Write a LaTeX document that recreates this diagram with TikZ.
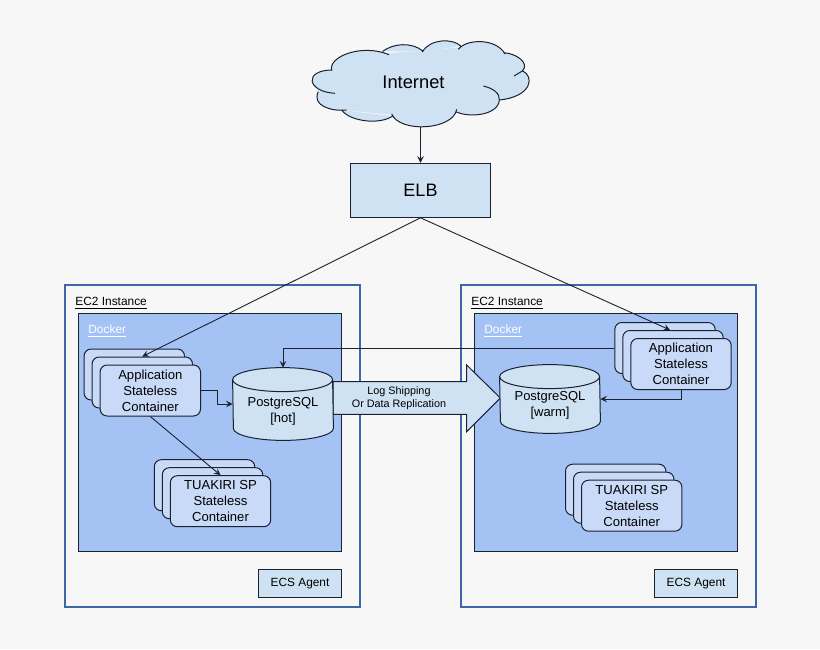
\documentclass[tikz,border=0pt]{standalone}
\usepackage{fontspec}
\setmainfont{Liberation Sans}
\usepackage{tikz}
\usetikzlibrary{positioning}

\definecolor{pagegray}{HTML}{F7F7F7}
\definecolor{paleblue}{HTML}{CFE2F3}
\definecolor{stackblue}{HTML}{C9DAF8}
\definecolor{dockerblue}{HTML}{A4C2F4}
\definecolor{edgeblue}{HTML}{3F66A6}
\definecolor{inkline}{HTML}{1A2230}

\newcommand{\dbdrum}[1]{
	\filldraw[draw=inkline, line width=0.5pt, fill=paleblue]
		([yshift=-6pt]#1.north west) arc[start angle=180, end angle=0, x radius=25pt, y radius=6pt]
		-- ([yshift=6pt]#1.south east) arc[start angle=360, end angle=180, x radius=25pt, y radius=6pt] -- cycle;
	\draw[draw=inkline, line width=0.5pt]
		([yshift=-6pt]#1.north west) arc[start angle=180, end angle=360, x radius=25pt, y radius=6pt];
}

\tikzset{
	plainbox/.style={draw=inkline, line width=0.5pt, fill=paleblue, inner sep=0pt},
	ec2box/.style={draw=edgeblue, line width=1pt, inner sep=0pt, minimum width=147.25pt, minimum height=161pt},
	dockerbox/.style={draw=inkline, line width=0.5pt, fill=dockerblue, inner sep=0pt, minimum width=131.5pt, minimum height=119pt},
	agentbox/.style={plainbox, minimum width=41.75pt, minimum height=14pt, font=\fontsize{5.95}{7}\selectfont},
	stackbox/.style={draw=inkline, line width=0.5pt, fill=stackblue, rounded corners=3.5pt, inner sep=0pt,
		minimum width=50.2pt, minimum height=25.5pt, align=center, font=\fontsize{6.55}{8}\selectfont},
	dbshell/.style={inner sep=0pt, minimum width=50pt},
	dbtext/.style={inner sep=0pt, align=center, font=\fontsize{6.5}{8}\selectfont},
	titletext/.style={inner sep=0pt, anchor=west, font=\fontsize{5.95}{7}\selectfont},
	link/.style={draw=inkline, line width=0.45pt, -stealth},
}

\begin{document}
\begin{tikzpicture}[x=0.5pt, y=-0.5pt]
		
		\fill[pagegray] (0,0) rectangle (820,649);
		\useasboundingbox (0,0) rectangle (820,649);
		
		% Cloud
		\begin{scope}[shift={(290,30)}, x=0.16667pt, y=-0.16667pt]
		\fill[paleblue] (127,120) -- (290,70) -- (400,62) -- (510,52) -- (642,70) -- (697,122)
			-- (628,210) -- (497,245) -- (305,254) -- (160,240) -- (82,195) -- cycle;
		\filldraw[draw=inkline, fill=paleblue, line width=0.5pt]
			(125,120) .. controls (115,80) and (215,40) .. (297,74)
			(278,64) .. controls (310,40) and (365,35) .. (400,64)
			(397,66) .. controls (420,25) and (490,25) .. (512,48)
			(505,58) .. controls (530,25) and (620,25) .. (645,72)
			(640,68) .. controls (680,70) and (720,100) .. (697,123)
			(697,123) -- (672,138)
			(697,122) .. controls (735,140) and (725,200) .. (628,210)
			(580,168) .. controls (610,175) and (630,190) .. (628,210)
			.. controls (625,255) and (540,265) .. (497,245)
			(500,238) .. controls (490,300) and (330,310) .. (305,252)
			(308,258) .. controls (270,285) and (180,275) .. (155,240)
			(170,240) .. controls (120,245) and (65,225) .. (85,185)
			(135,190) .. controls (50,185) and (40,120) .. (127,120);
		\end{scope}
		\node [inner sep=0pt, font=\fontsize{9.15}{11}\selectfont] (internet) at (413.5,82) {Internet};
		\coordinate (cloudbot) at (420.5,127);
		
		% Load balancer
		\node [plainbox,
		minimum width=70.2pt,
		minimum height=27pt,
		font=\fontsize{9}{11}\selectfont
		]  (elb) at (420.5,190.3) {ELB};
		
		% Left instance
		\node [ec2box]  (ec2L) at (212.25,446) {};
		\node [titletext] (ec2labelL) at (75,303.5) {\underline{EC2 Instance}};
		\node [dockerbox]  (dockerL) at (210,432.5) {};
		\node [titletext, text=white] (dockerlabelL) at (88,331.5) {\underline{Docker}};
		\node [agentbox]  (agentL) at (300,583.3) {ECS Agent};
		
		% Right instance
		\node [ec2box]  (ec2R) at (608.25,446) {};
		\node [titletext] (ec2labelR) at (471,303.5) {\underline{EC2 Instance}};
		\node [dockerbox]  (dockerR) at (606,432.5) {};
		\node [titletext, text=white] (dockerlabelR) at (484,331.5) {\underline{Docker}};
		\node [agentbox]  (agentR) at (696,583.3) {ECS Agent};
		
		% Left containers
		\node [stackbox]  (appbackL) at (134.3,374.5) {};
		\node [stackbox]  (appmidL) at ([shift={(8,8)}]appbackL) {};
		\node [stackbox]  (appL) at ([shift={(8,8)}]appmidL) {Application\\Stateless\\Container};
		
		\node [stackbox]  (spbackL) at (204.5,485.2) {};
		\node [stackbox]  (spmidL) at ([shift={(8,8)}]spbackL) {};
		\node [stackbox]  (spL) at ([shift={(8,8)}]spmidL) {TUAKIRI SP\\Stateless\\Container};
		
		% Right containers
		\node [stackbox]  (appbackR) at (665,348) {};
		\node [stackbox]  (appmidR) at ([shift={(8,8)}]appbackR) {};
		\node [stackbox]  (appR) at ([shift={(8,8)}]appmidR) {Application\\Stateless\\Container};
		
		\node [stackbox]  (spbackR) at (615.7,489.7) {};
		\node [stackbox]  (spmidR) at ([shift={(8,8)}]spbackR) {};
		\node [stackbox]  (spR) at ([shift={(8,8)}]spmidR) {TUAKIRI SP\\Stateless\\Container};
		
		% Replication arrow
		\draw[draw=inkline, line width=0.5pt, fill=paleblue]
			(333,381.7) -- (466.7,381.7) -- (466.7,365) -- (500.3,398) -- (466.7,431.7)
			-- (466.7,414.3) -- (333,414.3) -- cycle;
		\node [inner sep=0pt, align=center, font=\fontsize{5.4}{6.5}\selectfont] (logship) at (399,398)
			{Log Shipping\\Or Data Replication};
		
		% Databases
		\node [dbshell, minimum height=36pt]  (dbL) at (283,404) {};
		\dbdrum{dbL}
		\node [dbtext]  (dbtextL) at (283,411) {PostgreSQL\\{[hot]}};
		
		\node [dbshell, minimum height=34pt]  (dbR) at (550,399) {};
		\dbdrum{dbR}
		\node [dbtext]  (dbtextR) at (550,405) {PostgreSQL\\{[warm]}};
		
		\draw[link] (cloudbot) -- (elb.north);
		
		\draw[link] (elb.south) -- (appmidL.north);
		
		\draw[link] (elb.south) -- ([xshift=-1.5pt]appmidR.north);
		
		\draw[link] (appL.east) -- ++(16,0) |- (dbL.west);
		
		\draw[link] (appL.south) -- (spL.north);
		
		\draw[link] (appbackR.west) -| (dbL.north);
		
		\draw[link] (appR.south) |- (dbR.east);
		
		\end{tikzpicture}
\end{document}
